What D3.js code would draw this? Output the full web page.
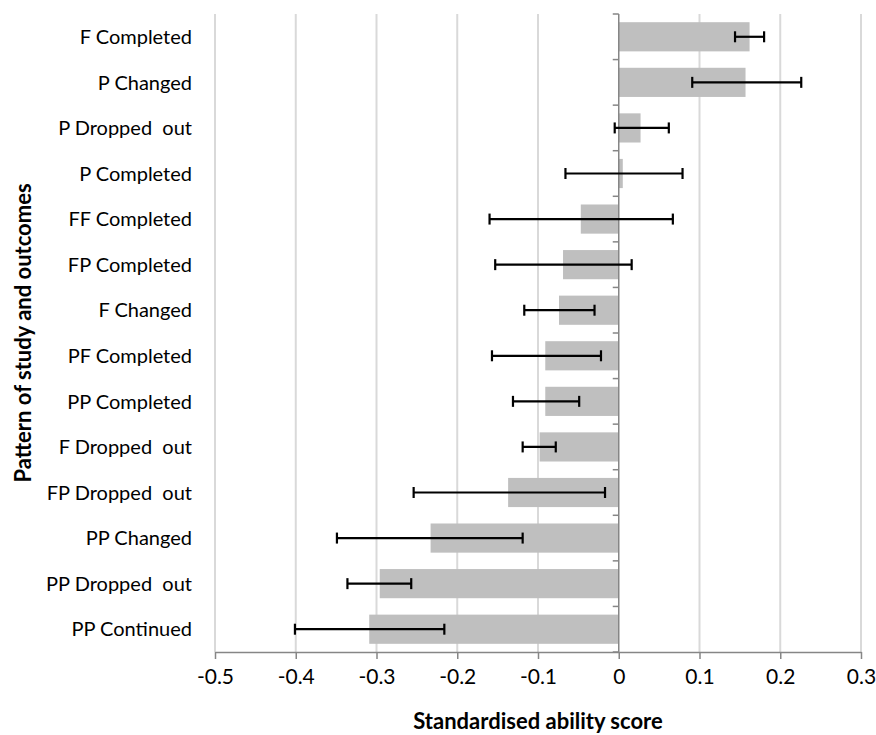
<!DOCTYPE html>
<html>
<head>
<meta charset="utf-8">
<script src="https://cdn.jsdelivr.net/npm/d3@7"></script>
<style>
  html, body { margin: 0; padding: 0; background: #ffffff; }
  svg { display: block; }
</style>
</head>
<body>
<svg id="chart" width="876" height="735"></svg>
<script>
const categories = [
  "F Completed", "P Changed", "P Dropped  out", "P Completed", "FF Completed",
  "FP Completed", "F Changed", "PF Completed", "PP Completed", "F Dropped  out",
  "FP Dropped  out", "PP Changed", "PP Dropped  out", "PP Continued"
];
const values = [0.162, 0.157, 0.027, 0.005, -0.047, -0.069, -0.074, -0.091, -0.091, -0.098, -0.137, -0.233, -0.296, -0.309];
const errLow = [0.144, 0.091, -0.005, -0.066, -0.160, -0.153, -0.117, -0.157, -0.131, -0.119, -0.254, -0.349, -0.336, -0.401];
const errHigh = [0.180, 0.226, 0.062, 0.079, 0.067, 0.016, -0.030, -0.022, -0.049, -0.078, -0.017, -0.119, -0.257, -0.216];
const xTickValues = [-0.5, -0.4, -0.3, -0.2, -0.1, 0, 0.1, 0.2, 0.3];
const xTickLabels = ["-0.5", "-0.4", "-0.3", "-0.2", "-0.1", "0", "0.1", "0.2", "0.3"];
const xTitle = "Standardised ability score";
const yTitle = "Pattern of study and outcomes";

const svg = d3.select("#chart");
const plot = { left: 215, right: 861, top: 14, bottom: 652 };

const x = d3.scaleLinear().domain([-0.5, 0.3]).range([plot.left, plot.right]);
const y = d3.scaleBand().domain(categories).range([plot.top, plot.bottom])
  .paddingInner(0.36).paddingOuter(0.18);

const font = "Lato, 'Open Sans', sans-serif";

// gridlines
svg.append("g").selectAll("line")
  .data(xTickValues.filter(v => v !== 0))
  .join("line")
  .attr("x1", d => x(d)).attr("x2", d => x(d))
  .attr("y1", plot.top).attr("y2", plot.bottom)
  .attr("stroke", "#d9d9d9").attr("stroke-width", 2);

// bars
svg.append("g").selectAll("rect")
  .data(categories)
  .join("rect")
  .attr("x", (d, i) => Math.min(x(0), x(values[i])))
  .attr("width", (d, i) => Math.abs(x(values[i]) - x(0)))
  .attr("y", d => y(d))
  .attr("height", y.bandwidth())
  .attr("fill", "#bfbfbf");

// zero axis (vertical) with tick marks at band boundaries
const step = y.step();
const boundaries = categories.map(c => y(c) - step * y.paddingInner() / 2);
boundaries.push(plot.bottom);
const zeroAxis = svg.append("g");
zeroAxis.append("line")
  .attr("x1", x(0)).attr("x2", x(0))
  .attr("y1", plot.top).attr("y2", plot.bottom)
  .attr("stroke", "#868686").attr("stroke-width", 1.5);
zeroAxis.selectAll("line.tk")
  .data(boundaries)
  .join("line").attr("class", "tk")
  .attr("x1", x(0) - 6).attr("x2", x(0))
  .attr("y1", d => d).attr("y2", d => d)
  .attr("stroke", "#868686").attr("stroke-width", 1.5);

// error bars
const eb = svg.append("g").attr("stroke", "#000").attr("stroke-width", 2.2);
categories.forEach((c, i) => {
  const cy = y(c) + y.bandwidth() / 2;
  eb.append("line").attr("x1", x(errLow[i])).attr("x2", x(errHigh[i]))
    .attr("y1", cy).attr("y2", cy);
  [errLow[i], errHigh[i]].forEach(v => {
    eb.append("line").attr("x1", x(v)).attr("x2", x(v))
      .attr("y1", cy - 5.5).attr("y2", cy + 5.5);
  });
});

// bottom axis
const xAxis = d3.axisBottom(x)
  .tickValues(xTickValues)
  .tickFormat((d, i) => xTickLabels[i])
  .tickSize(7).tickSizeOuter(0).tickPadding(10);
const gx = svg.append("g").attr("transform", `translate(0,${plot.bottom})`).call(xAxis);
gx.select(".domain").attr("stroke", "#868686").attr("stroke-width", 1.5);
gx.selectAll(".tick line").attr("stroke", "#868686").attr("stroke-width", 1.5);
gx.selectAll(".tick text")
  .attr("fill", "#000").attr("font-family", font).attr("font-size", 21)
  .attr("dy", "0.71em");

// category labels
svg.append("g").selectAll("text")
  .data(categories)
  .join("text")
  .attr("x", 192)
  .attr("y", d => y(d) + y.bandwidth() / 2)
  .attr("dy", "0.36em")
  .attr("text-anchor", "end")
  .attr("font-family", font).attr("font-size", 20)
  .style("white-space", "pre")
  .attr("fill", "#000")
  .text(d => d);

// axis titles
svg.append("text")
  .attr("x", (plot.left + plot.right) / 2).attr("y", 729)
  .attr("text-anchor", "middle")
  .attr("font-family", font).attr("font-size", 22).attr("font-weight", "bold")
  .attr("fill", "#000")
  .text(xTitle);

svg.append("text")
  .attr("transform", `translate(31,${(plot.top + plot.bottom) / 2}) rotate(-90)`)
  .attr("text-anchor", "middle")
  .attr("font-family", font).attr("font-size", 22).attr("font-weight", "bold")
  .attr("fill", "#000")
  .text(yTitle);
</script>
</body>
</html>
